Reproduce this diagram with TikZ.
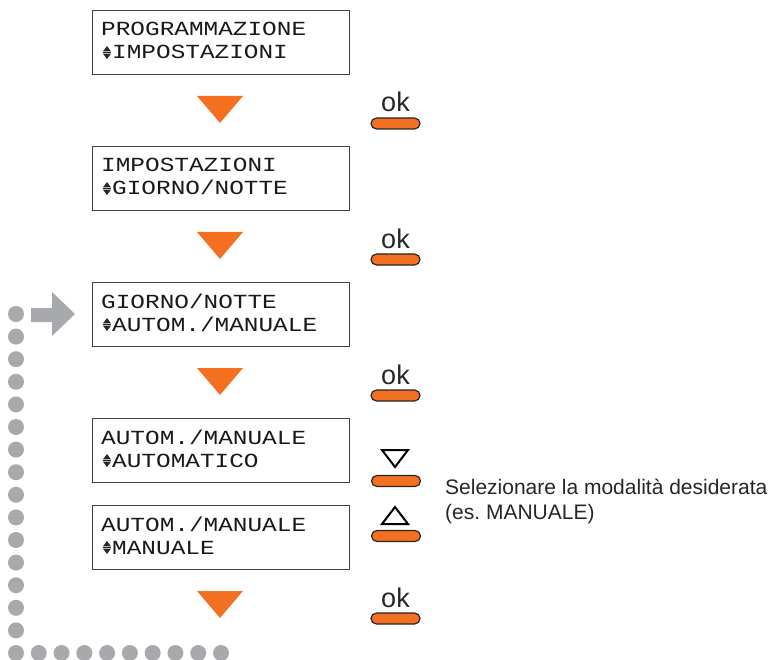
\documentclass[tikz,border=0pt]{standalone}
\usepackage{fontspec}
\setmainfont{Liberation Sans}
\newfontfamily\lcdfont[FakeStretch=1.22]{Liberation Mono}
\definecolor{lcdorange}{RGB}{243,112,33}
\definecolor{dotgray}{RGB}{167,169,172}
\frenchspacing
\tikzset{
  lcdbox/.style={draw=black!75, line width=1.2pt, minimum width=257.5pt, minimum height=64pt, inner sep=0pt, anchor=north west},
  lcdtext/.style={anchor=base west, inner sep=0pt, font=\lcdfont\fontsize{20}{22}\selectfont, text=black!90},
  desc/.style={anchor=base west, inner sep=0pt, font=\fontsize{21}{24}\selectfont, text=black!85},
  oklabel/.style={anchor=base, inner sep=0pt, font=\fontsize{27}{30}\selectfont, text=black!85},
  keybtn/.style={draw=black!85, fill=lcdorange, line width=1.2pt, rounded corners=5.5pt, minimum width=49pt, minimum height=11pt, inner sep=0pt},
  stepmark/.style={fill=lcdorange},
  graydot/.style={circle, fill=dotgray, minimum size=16pt, inner sep=0pt},
  navtri/.style={draw=black, line width=2pt, line join=miter},
  updn/.pic={
    \fill[black!85] (0,-7.6) -- (8,-7.6) -- (4,-13) -- cycle;
    \draw[black!85, line width=1pt] (0,-6.5) -- (8,-6.5);
    \fill[black!85] (0,-5.4) -- (8,-5.4) -- (4,0) -- cycle;
  }
}
\begin{document}
\begin{tikzpicture}[x=1pt,y=-1pt]
\useasboundingbox (0,0) rectangle (773,660);

% LCD boxes
\node[lcdbox] (box1) at (91.5,10) {};
\node[lcdtext] (t1a) at (101,36) {PROGRAMMAZIONE};
\pic at (103,59) {updn};
\node[lcdtext] (t1b) at (112,59) {IMPOSTAZIONI};

\node[lcdbox] (box2) at (91.5,146) {};
\node[lcdtext] (t2a) at (101,172) {IMPOSTAZIONI};
\pic at (103,195) {updn};
\node[lcdtext] (t2b) at (112,195) {GIORNO/NOTTE};

\node[lcdbox] (box3) at (91.5,282) {};
\node[lcdtext] (t3a) at (101,308) {GIORNO/NOTTE};
\pic at (103,331) {updn};
\node[lcdtext] (t3b) at (112,331) {AUTOM./MANUALE};

\node[lcdbox] (box4) at (91.5,418) {};
\node[lcdtext] (t4a) at (101,444) {AUTOM./MANUALE};
\pic at (103,467) {updn};
\node[lcdtext] (t4b) at (112,467) {AUTOMATICO};

\node[lcdbox] (box5) at (91.5,505) {};
\node[lcdtext] (t5a) at (101,531) {AUTOM./MANUALE};
\pic at (103,554) {updn};
\node[lcdtext] (t5b) at (112,554) {MANUALE};

% orange step triangles
\foreach \T in {96,232,368,591}{
  \fill[stepmark] (197,\T) -- (243,\T) -- (220,\T+27) -- cycle;
}

% ok keys
\node[oklabel] (ok1) at (395.5,112) {ok};
\node[keybtn] (k1) at (395.5,123.5) {};
\node[oklabel] (ok2) at (395.5,248) {ok};
\node[keybtn] (k2) at (395.5,259.5) {};
\node[oklabel] (ok3) at (395.5,384) {ok};
\node[keybtn] (k3) at (395.5,395.5) {};
\node[oklabel] (ok4) at (395.5,607) {ok};
\node[keybtn] (k4) at (395.5,618.5) {};

% arrow keys
\draw[navtri] (382,450) -- (408,450) -- (395,467) -- cycle;
\node[keybtn] (kdown) at (396,481) {};
\draw[navtri] (382,524) -- (408,524) -- (395,507) -- cycle;
\node[keybtn] (kup) at (396,536) {};

% description
\node[desc] (d1) at (445,494) {Selezionare la modalità desiderata};
\node[desc] (d2) at (445,519) {(es. MANUALE)};

% dotted return loop
\foreach \i in {0,...,15}{
  \node[graydot] (vd\i) at (16,{314+\i*22.6}) {};
}
\foreach \i in {1,...,9}{
  \node[graydot] (hd\i) at ({16+\i*22.78},653) {};
}
\fill[dotgray] (31,308) -- (52,308) -- (52,292) -- (75,314) -- (52,336) -- (52,322) -- (31,322) -- cycle;
\end{tikzpicture}
\end{document}
